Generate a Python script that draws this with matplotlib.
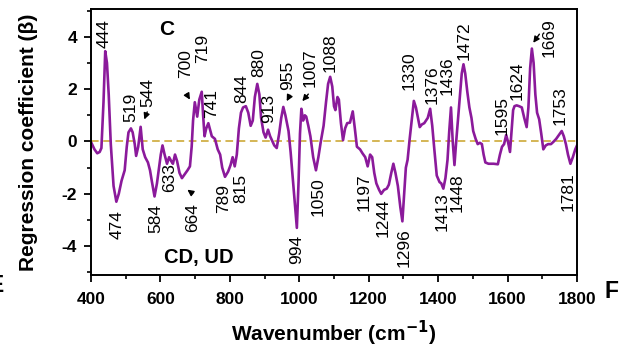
import matplotlib
matplotlib.use("Agg")
import matplotlib.pyplot as plt
from matplotlib.ticker import MultipleLocator

plt.rcParams['font.family'] = ['Liberation Sans', 'DejaVu Sans']
plt.rcParams['axes.unicode_minus'] = False

wavenumber = [400, 410, 418, 425, 430, 436, 441, 446, 451, 457, 465, 473, 480, 488, 497, 503, 508, 515,
              520, 526, 530, 536, 543, 549, 556, 564, 570, 575, 583, 590, 596, 601, 606, 612, 619, 625,
              631, 636, 642, 648, 655, 662, 670, 678, 685, 690, 694, 699, 706, 712, 719, 723, 727, 732,
              738, 743, 748, 757, 765, 772, 778, 786, 795, 802, 808, 814, 820, 826, 832, 838, 846, 853,
              860, 866, 872, 879, 885, 890, 897, 903, 910, 916, 921, 928, 935, 942, 948, 954, 960, 969,
              975, 980, 986, 993, 998, 1002, 1006, 1011, 1016, 1020, 1026, 1032, 1040, 1048, 1055, 1062,
              1070, 1077, 1083, 1089, 1095, 1100, 1104, 1110, 1114, 1120, 1126, 1132, 1138, 1146, 1154,
              1160, 1166, 1175, 1182, 1190, 1197, 1204, 1210, 1216, 1222, 1230, 1236, 1244, 1252, 1258,
              1265, 1271, 1277, 1284, 1291, 1297, 1302, 1307, 1312, 1318, 1323, 1330, 1336, 1342, 1347,
              1353, 1360, 1370, 1377, 1383, 1389, 1396, 1404, 1409, 1415, 1421, 1427, 1432, 1437, 1442,
              1447, 1452, 1457, 1463, 1468, 1473, 1478, 1484, 1490, 1496, 1501, 1508, 1514, 1520, 1526,
              1531, 1536, 1545, 1560, 1572, 1578, 1584, 1590, 1596, 1601, 1607, 1611, 1616, 1620, 1626,
              1633, 1641, 1648, 1655, 1660, 1665, 1670, 1675, 1680, 1685, 1691, 1697, 1703, 1710, 1717,
              1725, 1733, 1740, 1748, 1756, 1762, 1768, 1774, 1781, 1788, 1795, 1800]

beta = [-0.02, -0.3, -0.45, -0.4, -0.25, 1.5, 3.45, 3.0, 1.8, -0.1, -1.7, -2.3, -2.0, -1.5, -1.1, -0.2, 0.35, 0.5,
        0.35, -0.1, -0.55, -0.2, 0.56, -0.3, -0.6, -0.8, -1.1, -1.5, -2.1, -1.6, -1.0, -0.5, -0.15, -0.5, -0.85, -0.6,
        -0.75, -0.85, -0.5, -0.75, -1.2, -1.4, -1.25, -1.1, -0.95, -0.2, 0.8, 1.5, 0.95, 1.6, 1.9, 1.0, 0.2, 0.5,
        0.7, 0.45, 0.2, 0.1, -0.3, -0.5, -1.0, -1.35, -1.15, -0.9, -0.6, -0.95, -0.5, 0.5, 1.1, 1.3, 1.35, 1.1,
        0.6, 0.8, 1.7, 2.2, 1.8, 0.9, 0.35, 0.15, 0.45, 0.2, 0.05, -0.15, -0.25, 0.3, 0.9, 1.32, 1.0, 0.4,
        -0.4, -1.2, -2.2, -3.3, -1.5, 0.3, 1.25, 0.8, 1.0, 0.95, 0.6, 0.2, -0.6, -1.1, -0.6, 0.0,
        0.6, 1.5, 2.2, 2.47, 2.1, 1.35, 1.2, 1.7, 1.6, 0.7, 0.05, 0.5, 0.7, 0.72, 1.15,
        0.5, -0.2, -0.3, -0.45, -0.6, -0.95, -0.5, -0.6, -1.2, -1.6, -1.85, -2.0, -1.85, -1.8, -1.65,
        -1.2, -0.85, -1.2, -1.7, -2.5, -3.05, -2.0, -1.0, -0.7, 0.1, 0.7, 1.55, 1.3, 0.9, 0.55,
        0.65, 0.7, 0.9, 1.25, 0.6, -0.3, -1.3, -1.55, -1.6, -1.8, -1.4, -0.7, 0.4, 1.3, 0.0,
        -0.9, 0.0, 0.8, 1.8, 2.6, 2.95, 2.6, 1.9, 1.3, 0.9, 0.4, 0.1, -0.1, -0.05, -0.1,
        -0.5, -0.8, -0.85, -0.85, -0.87, -0.5, -0.2, -0.1, 0.25, 0.0, -0.4, 0.3, 1.2, 1.35, 1.38,
        1.35, 1.3, 0.9, 0.55, 1.3, 2.8, 3.55, 3.0, 1.8, 1.1, 0.85, 0.3, -0.3, -0.15, -0.1,
        -0.1, 0.0, 0.1, 0.25, 0.4, 0.2, -0.1, -0.5, -0.85, -0.6, -0.3, -0.15]

# peak labels: (text, x, y)
labels_above = [("444", 437.5, 3.57), ("519", 514.7, 0.75), ("544", 564, 1.32), ("700", 673, 2.41),
                ("719", 721, 2.98), ("741", 747.6, 0.89), ("844", 834, 1.46), ("880", 882, 2.47),
                ("913", 912.8, 0.7), ("955", 966, 1.96), ("1007", 1030, 2.09), ("1088", 1088.6, 2.66),
                ("1330", 1316.7, 1.96), ("1376", 1381.5, 1.45), ("1436", 1427, 1.77), ("1472", 1475, 3.11),
                ("1595", 1585.6, 0.24), ("1624", 1628.7, 1.58), ("1753", 1751, 0.62)]
labels_below = [("474", 476, -2.63), ("584", 586.8, -2.37), ("633", 627.6, -0.84), ("664", 692, -2.37),
                ("789", 783, -1.61), ("815", 831.7, -1.22), ("994", 992.6, -3.58), ("1050", 1053, -1.35),
                ("1197", 1187, -1.22), ("1244", 1242, -2.18), ("1296", 1302, -3.33), ("1413", 1412.7, -1.93),
                ("1448", 1456, -1.22), ("1781", 1775, -1.16)]
arrows = [((562, 1.13), (553.6, 0.84)), ((675.6, 1.81), (685, 1.6)), ((973, 1.77), (963.7, 1.54)),
          ((1026, 1.81), (1008.8, 1.54)), ((693, -1.99), (677.5, -1.84)), ((1691.6, 4.1), (1674, 3.77))]

fig = plt.figure(figsize=(6.23, 3.49), dpi=100)
ax = fig.add_axes([91/623, 1-275/349, (577-91)/623, (275-9.3)/349])

ax.axhline(0, color='#c9a227', lw=1.1, ls=(0, (5, 3)), zorder=1)
ax.plot(wavenumber, beta, color='#8b1a9b', lw=1.9, zorder=2)

ax.set_xlim(400, 1800)
ax.set_ylim(-5.1, 5.05)
ax.xaxis.set_major_locator(MultipleLocator(200))
ax.xaxis.set_minor_locator(MultipleLocator(100))
ax.yaxis.set_major_locator(MultipleLocator(2))
ax.yaxis.set_minor_locator(MultipleLocator(1))
ax.tick_params(which='major', length=5, width=1.3, labelsize=12.5)
ax.tick_params(axis='x', which='major', pad=7)
ax.tick_params(axis='y', which='major', pad=5)
ax.tick_params(which='minor', length=3, width=1.2)
for lab in ax.get_xticklabels() + ax.get_yticklabels():
    lab.set_fontweight('bold')
for sp in ax.spines.values():
    sp.set_linewidth(1.4)

ax.set_xlabel('Wavenumber (cm$^{\\mathbf{-1}}$)', fontsize=15, fontweight='bold', labelpad=9)
ax.set_ylabel('Regression coefficient (β)', fontsize=15, fontweight='bold', labelpad=17)

for t, x, y in labels_above:
    ax.text(x, y, t, rotation=90, ha='center', va='bottom', fontsize=12.5)
for t, x, y in labels_below:
    ax.text(x, y, t, rotation=90, ha='center', va='top', fontsize=12.5)
ax.text(1720, 3.97, "1669", rotation=90, ha='center', va='center', fontsize=12.5)
for (x0, y0), (x1, y1) in arrows:
    ax.annotate('', xy=(x1, y1), xytext=(x0, y0),
                arrowprops=dict(arrowstyle='-|>', color='k', lw=1.0, mutation_scale=9, shrinkA=0, shrinkB=0))

ax.text(618, 4.26, 'C', fontsize=15, fontweight='bold', ha='center', va='center')
ax.text(711, -4.66, 'CD, UD', fontsize=14.5, fontweight='bold', ha='center', va='baseline')

fig.text(605/623, 1-291.7/349, 'F', fontsize=16.5, fontweight='bold', ha='left', va='center')
fig.text(4/623, 1-285/349, 'E', fontsize=16.5, fontweight='bold', ha='right', va='center')

fig.savefig('out.png', dpi=100)
